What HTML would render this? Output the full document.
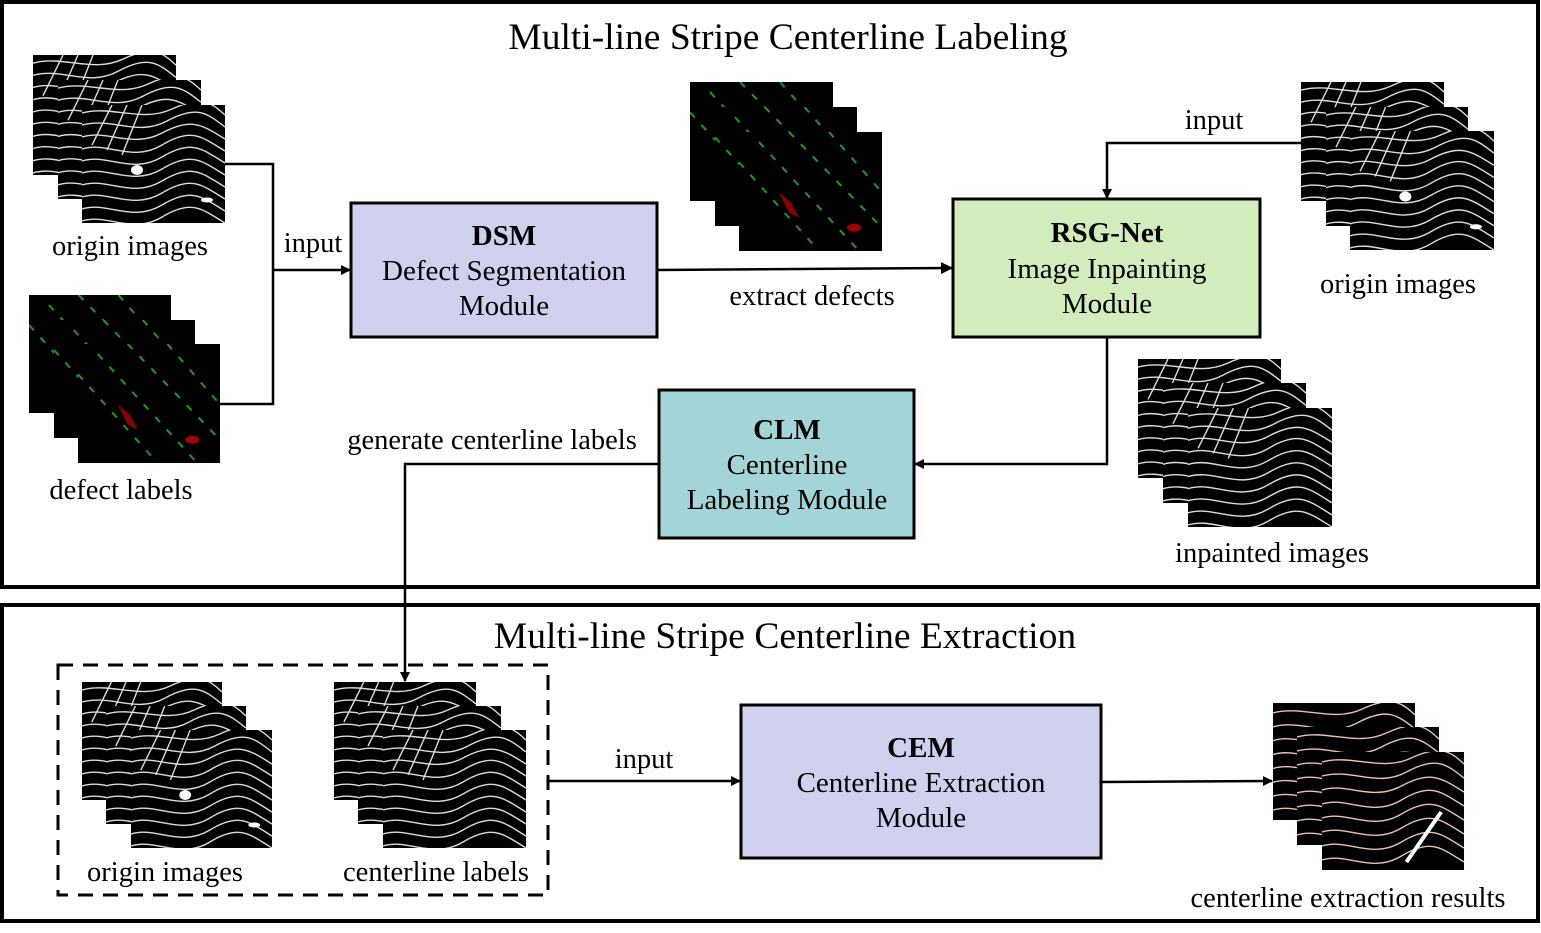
<!DOCTYPE html>
<html><head><meta charset="utf-8"><style>
html,body{margin:0;padding:0;background:#fff;}
svg{display:block;}
text{font-family:"Liberation Serif",serif;fill:#000;}
</style></head><body>
<svg width="1541" height="933" viewBox="0 0 1541 933" xmlns="http://www.w3.org/2000/svg">
<defs>
<symbol id="w" viewBox="0 0 143 118" preserveAspectRatio="none">
<rect width="143" height="118" fill="#000"/>
<g fill="none" stroke="#ddd" stroke-width="1.4">
<path d="M0,8 C30,0 60,18 90,4 S130,-2 143,10"/>
<path d="M0,20 C30,12 55,32 85,16 S125,8 143,22"/>
<path d="M0,32 C25,24 50,44 80,28 S120,20 143,34"/>
<path d="M0,44 C25,36 50,58 80,40 S120,32 143,46"/>
<path d="M0,56 C25,48 50,70 80,52 S120,44 143,58"/>
<path d="M0,68 C25,60 50,82 80,64 S120,56 143,70"/>
<path d="M0,80 C25,72 50,94 80,76 S120,68 143,82"/>
<path d="M0,92 C25,84 50,106 80,88 S120,80 143,94"/>
<path d="M0,104 C25,96 50,118 80,100 S120,92 143,106"/>
<path d="M0,116 C25,108 50,130 80,112 S120,104 143,118"/>
<path d="M30,0 L10,40 M45,0 L25,45 M60,0 L40,50"/>
</g>
</symbol>
<symbol id="wd" viewBox="0 0 143 118" preserveAspectRatio="none">
<use href="#w" width="143" height="118"/>
<ellipse cx="55" cy="65" rx="6" ry="5" fill="#fff"/>
<ellipse cx="125" cy="95" rx="6" ry="2.5" fill="#fff"/>
</symbol>
<symbol id="g" viewBox="0 0 143 118" preserveAspectRatio="none">
<rect width="143" height="118" fill="#000"/>
<g fill="none" stroke="#1a9a1a" stroke-width="2" stroke-dasharray="7 10">
<path d="M20,10 L120,118"/>
<path d="M50,0 L143,95"/>
<path d="M90,0 L143,60"/>
<path d="M0,30 L80,118"/>
</g>
<path d="M40,60 L52,70 L60,85 L50,80 Z" fill="#8b0000"/>
<ellipse cx="115" cy="95" rx="7" ry="4" fill="#a00000"/>
</symbol>
<symbol id="r" viewBox="0 0 143 118" preserveAspectRatio="none">
<rect width="143" height="118" fill="#000"/>
<g fill="none" stroke="#e8c0c0" stroke-width="1.4">
<path d="M0,10 C30,2 60,20 90,6 S130,0 143,12"/>
<path d="M0,24 C30,16 55,36 85,20 S125,12 143,26"/>
<path d="M0,38 C25,30 50,50 80,34 S120,26 143,40"/>
<path d="M0,52 C25,44 50,66 80,48 S120,40 143,54"/>
<path d="M0,66 C25,58 50,80 80,62 S120,54 143,68"/>
<path d="M0,80 C25,72 50,94 80,76 S120,68 143,82"/>
<path d="M0,94 C25,86 50,108 80,90 S120,82 143,96"/>
<path d="M0,108 C25,100 50,122 80,104 S120,96 143,110"/>
</g>
<path d="M85,110 L120,60" stroke="#fff" stroke-width="4"/>
</symbol>
<marker id="a" markerWidth="10" markerHeight="10" refX="9" refY="5" orient="auto" markerUnits="userSpaceOnUse"><path d="M0,0 L10,5 L0,10 Z" fill="#000"/></marker>
<marker id="b" markerWidth="12" markerHeight="12" refX="11" refY="6" orient="auto" markerUnits="userSpaceOnUse"><path d="M0,0 L12,6 L0,12 Z" fill="#000"/></marker>
</defs>

<rect x="2" y="2" width="1536" height="585" fill="none" stroke="#000" stroke-width="4"/>
<rect x="2" y="605" width="1536" height="316" fill="none" stroke="#000" stroke-width="4"/>
<rect x="58" y="665" width="490" height="230" fill="none" stroke="#000" stroke-width="3" stroke-dasharray="15 10"/>

<text x="788" y="49" font-size="37.5" text-anchor="middle">Multi-line Stripe Centerline Labeling</text>
<text x="785" y="648" font-size="37.5" text-anchor="middle">Multi-line Stripe Centerline Extraction</text>

<use href="#wd" x="33" y="55" width="143" height="120"/><use href="#wd" x="58" y="80" width="143" height="119"/><use href="#wd" x="82" y="105" width="143" height="118"/>
<use href="#g" x="29" y="295" width="142" height="118"/><use href="#g" x="54" y="320" width="141" height="118"/><use href="#g" x="78" y="344" width="142" height="119"/>
<use href="#g" x="690" y="82" width="143" height="119"/><use href="#g" x="715" y="107" width="142" height="119"/><use href="#g" x="739" y="132" width="143" height="119"/>
<use href="#wd" x="1301" y="82" width="143" height="119"/><use href="#wd" x="1326" y="107" width="142" height="119"/><use href="#wd" x="1350" y="131" width="144" height="119"/>
<use href="#w" x="1138" y="359" width="143" height="119"/><use href="#w" x="1163" y="383" width="143" height="120"/><use href="#w" x="1188" y="408" width="144" height="119"/>
<use href="#wd" x="82" y="682" width="140" height="118"/><use href="#wd" x="106" y="706" width="140" height="118"/><use href="#wd" x="131" y="730" width="141" height="118"/>
<use href="#w" x="334" y="682" width="142" height="118"/><use href="#w" x="358" y="706" width="143" height="118"/><use href="#w" x="383" y="730" width="143" height="118"/>
<use href="#r" x="1273" y="703" width="142" height="117"/><use href="#r" x="1297" y="727" width="142" height="118"/><use href="#r" x="1322" y="752" width="142" height="118"/>

<rect x="351" y="203" width="306" height="134" fill="#cfd0ee" stroke="#000" stroke-width="3"/>
<rect x="953" y="199" width="307" height="138" fill="#d3ecbb" stroke="#000" stroke-width="3"/>
<rect x="659" y="390" width="255" height="148" fill="#a3d5d8" stroke="#000" stroke-width="3"/>
<rect x="741" y="705" width="360" height="153" fill="#cfd0ee" stroke="#000" stroke-width="3"/>

<g font-size="29" text-anchor="middle">
<text x="504" y="245" font-weight="bold">DSM</text>
<text x="504" y="280">Defect Segmentation</text>
<text x="504" y="315">Module</text>
<text x="1107" y="242" font-weight="bold">RSG-Net</text>
<text x="1107" y="278">Image Inpainting</text>
<text x="1107" y="313">Module</text>
<text x="787" y="439" font-weight="bold">CLM</text>
<text x="787" y="474">Centerline</text>
<text x="787" y="509">Labeling Module</text>
<text x="921" y="757" font-weight="bold">CEM</text>
<text x="921" y="792">Centerline Extraction</text>
<text x="921" y="827">Module</text>
</g>

<g font-size="28.5">
<text x="130" y="255" text-anchor="middle">origin images</text>
<text x="121" y="499" text-anchor="middle">defect labels</text>
<text x="313" y="252" text-anchor="middle">input</text>
<text x="812" y="305" text-anchor="middle">extract defects</text>
<text x="1214" y="129" text-anchor="middle">input</text>
<text x="1398" y="293" text-anchor="middle">origin images</text>
<text x="492" y="449" text-anchor="middle">generate centerline labels</text>
<text x="1272" y="562" text-anchor="middle">inpainted images</text>
<text x="165" y="881" text-anchor="middle">origin images</text>
<text x="436" y="881" text-anchor="middle">centerline labels</text>
<text x="644" y="768" text-anchor="middle">input</text>
<text x="1348" y="907" text-anchor="middle">centerline extraction results</text>
</g>

<g fill="none" stroke="#000" stroke-width="2.5">
<path d="M225,164 H273 V404 H220"/>
<path d="M273,270 H350" marker-end="url(#a)"/>
<path d="M657,270 L952,268" marker-end="url(#b)"/>
<path d="M1301,143 H1107 V198" marker-end="url(#a)"/>
<path d="M1107,337 V464 H915" marker-end="url(#a)"/>
<path d="M659,464 H405 V681" marker-end="url(#a)"/>
<path d="M549,781 H740" marker-end="url(#a)"/>
<path d="M1101,782 L1272,781" marker-end="url(#a)"/>
</g>
</svg>
</body></html>
